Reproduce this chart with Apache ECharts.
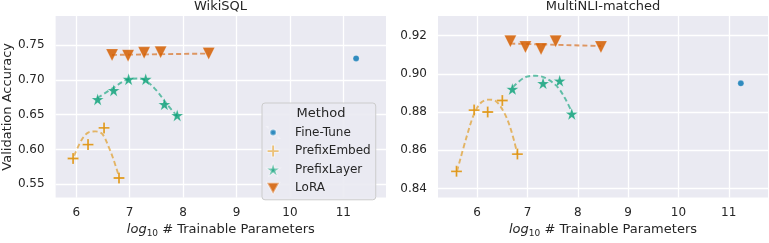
<!DOCTYPE html>
<html>
<head>
<meta charset="utf-8">
<script src="https://cdn.jsdelivr.net/npm/echarts@6/dist/echarts.min.js"></script>
<style>
html,body{margin:0;padding:0;background:#fff;}
#chart{width:769px;height:243px;}
</style>
</head>
<body>
<div id="chart"></div>
<script>
// ---- data ----
const methods = ['Fine-Tune', 'PrefixEmbed', 'PrefixLayer', 'LoRA'];
const panelTitles = ['WikiSQL', 'MultiNLI-matched'];

// WikiSQL (x = log10 # trainable params, y = validation accuracy)
const wikiFine  = [[11.24, 0.731]];
const wikiEmbed = [[5.94, 0.587], [6.22, 0.607], [6.52, 0.631], [6.80, 0.559]];
const wikiLayer = [[6.40, 0.672], [6.70, 0.685], [6.98, 0.701], [7.30, 0.701], [7.65, 0.665], [7.89, 0.649]];
const wikiLora  = [[6.67, 0.736], [6.97, 0.735], [7.27, 0.739], [7.58, 0.740], [8.48, 0.738]];
const wikiEmbedFit = [[5.96, 0.591], [6.11, 0.615], [6.24, 0.625], [6.36, 0.626], [6.49, 0.622], [6.61, 0.603], [6.70, 0.585], [6.80, 0.561]];
const wikiLayerFit = [[6.40, 0.674], [6.70, 0.689], [6.98, 0.701], [7.15, 0.702], [7.30, 0.699], [7.50, 0.685], [7.70, 0.665], [7.89, 0.648]];
const wikiLoraFit  = [[6.67, 0.736], [8.48, 0.738]];

// MultiNLI-matched
const mnliFine  = [[11.24, 0.895]];
const mnliEmbed = [[5.59, 0.849], [5.94, 0.881], [6.21, 0.880], [6.50, 0.886], [6.80, 0.858]];
const mnliLayer = [[6.70, 0.892], [7.31, 0.895], [7.64, 0.8963], [7.88, 0.879]];
const mnliLora  = [[6.66, 0.917], [6.96, 0.914], [7.27, 0.913], [7.56, 0.917], [8.46, 0.914]];
const mnliEmbedFit = [[5.60, 0.849], [5.79, 0.867], [5.94, 0.879], [6.08, 0.885], [6.23, 0.8865], [6.38, 0.8855], [6.55, 0.879], [6.68, 0.870], [6.80, 0.858]];
const mnliLayerFit = [[6.71, 0.893], [6.94, 0.898], [7.16, 0.899], [7.37, 0.8976], [7.60, 0.893], [7.77, 0.886], [7.88, 0.880]];
const mnliLoraFit  = [[6.66, 0.9158], [8.46, 0.9145]];

// ---- styling ----
const FONT = 'DejaVu Sans';
const TXT = '#262626';
const colors = {fine: '#0173B2', embed: '#DE8F05', layer: '#029E73', lora: '#D55E00'};
const STAR = 'path://M0,-10 L2.245,-3.09 L9.511,-3.09 L3.633,1.18 L5.878,8.09 L0,3.82 L-5.878,8.09 L-3.633,1.18 L-9.511,-3.09 L-2.245,-3.09 Z';
const PLUS = 'path://M-1.7,-10 L1.7,-10 L1.7,-1.7 L10,-1.7 L10,1.7 L1.7,1.7 L1.7,10 L-1.7,10 L-1.7,1.7 L-10,1.7 L-10,-1.7 L-1.7,-1.7 Z';
const TRI_DOWN = 'path://M-10,-9 L10,-9 L0,9 Z';
const SMALLDOT = 'path://M0,0 L0.01,0 L0.01,0.01 Z M22,22 L21.99,22 L21.99,21.99 Z M5,11 A6,6 0 1 1 17,11 A6,6 0 1 1 5,11 Z';

const chart = echarts.init(document.getElementById('chart'), null, {renderer: 'canvas'});

function isMult(v, step) { return Math.abs(v / step - Math.round(v / step)) < 1e-6; }

function xAxis(gi, min, max) {
  return {
    gridIndex: gi, type: 'value', min: min, max: max, minInterval: 1, maxInterval: 1,
    axisLine: {show: false}, axisTick: {show: false},
    axisLabel: {margin: 9, fontSize: 12, fontFamily: FONT, color: TXT, showMinLabel: false, showMaxLabel: false,
      formatter: v => isMult(v, 1) ? String(Math.round(v)) : ''},
    splitLine: {show: true, showMinLine: false, showMaxLine: false, lineStyle: {color: '#ffffff', width: 1.3}},
    name: '{it|log}{sub|10} # Trainable Parameters', nameLocation: 'middle', nameGap: 23,
    nameTextStyle: {fontSize: 13, fontFamily: FONT, color: TXT,
      rich: {it: {fontStyle: 'italic', fontSize: 13, fontFamily: FONT, color: TXT},
             sub: {fontSize: 9, fontFamily: FONT, color: TXT, padding: [7, 0, 0, 0]}}}
  };
}
function yAxis(gi, min, max, step, name) {
  return {
    gridIndex: gi, type: 'value', min: min, max: max, minInterval: step, maxInterval: step,
    axisLine: {show: false}, axisTick: {show: false},
    axisLabel: {margin: 11, fontSize: 12, fontFamily: FONT, color: TXT, showMinLabel: false, showMaxLabel: false,
      formatter: v => isMult(v, step) ? v.toFixed(2) : ''},
    splitLine: {show: true, showMinLine: false, showMaxLine: false, lineStyle: {color: '#ffffff', width: 1.3}},
    name: name, nameLocation: 'middle', nameGap: 40,
    nameTextStyle: {fontSize: 13, fontFamily: FONT, color: TXT}
  };
}

function panelSeries(gi, fine, embed, layer, lora, embedFit, layerFit, loraFit) {
  const line = (name, data, color) => ({
    name: name, type: 'line', xAxisIndex: gi, yAxisIndex: gi, data: data, smooth: 0.35,
    showSymbol: false, symbol: 'none', z: 1, silent: true,
    lineStyle: {color: color, width: 1.9, type: [5, 3], opacity: 0.6}
  });
  const sc = (name, data, color, symbol, size, op) => ({
    name: name, type: 'scatter', xAxisIndex: gi, yAxisIndex: gi, data: data, z: 3,
    symbol: symbol, symbolSize: size,
    itemStyle: {color: color, opacity: op, borderColor: 'rgba(255,255,255,0.45)', borderWidth: 0.5}
  });
  return [
    line('embedFit' + gi, embedFit, colors.embed),
    line('layerFit' + gi, layerFit, colors.layer),
    line('loraFit' + gi, loraFit, colors.lora),
    sc('Fine-Tune', fine, colors.fine, 'circle', 6, 0.8),
    sc('PrefixEmbed', embed, colors.embed, PLUS, 11, 0.9),
    sc('PrefixLayer', layer, colors.layer, STAR, 12, 0.8),
    sc('LoRA', lora, colors.lora, TRI_DOWN, 12, 0.85)
  ];
}

const option = {
  animation: false,
  backgroundColor: '#ffffff',
  grid: [
    {left: 55, top: 16, width: 331, height: 186, show: true, backgroundColor: '#EAEAF2', borderWidth: 0},
    {left: 438, top: 16, width: 330, height: 186, show: true, backgroundColor: '#EAEAF2', borderWidth: 0}
  ],
  xAxis: [xAxis(0, 5.613, 11.80), xAxis(1, 5.222, 11.78)],
  yAxis: [yAxis(0, 0.5308, 0.7920, 0.05, 'Validation Accuracy'), yAxis(1, 0.83526, 0.9302, 0.02, '')],
  legend: {
    left: 262, top: 103, orient: 'vertical',
    padding: [23, 5, 5, 4],
    itemWidth: 24, itemHeight: 11, itemGap: 5.6,
    backgroundColor: 'rgba(234,234,242,0.9)', borderColor: '#CCCCCC', borderWidth: 1, borderRadius: 3,
    textStyle: {fontFamily: FONT, fontSize: 12, color: TXT, padding: [0, 0, 0, 5]},
    data: [
      {name: methods[0], icon: SMALLDOT},
      {name: methods[1]},
      {name: methods[2]},
      {name: methods[3]}
    ]
  },
  graphic: [
    {type: 'text', z: 100, x: 220.5, y: 7, style: {text: panelTitles[0], font: '13px "DejaVu Sans"', fill: TXT, textAlign: 'center', textVerticalAlign: 'middle'}},
    {type: 'text', z: 100, x: 603, y: 7, style: {text: panelTitles[1], font: '13px "DejaVu Sans"', fill: TXT, textAlign: 'center', textVerticalAlign: 'middle'}},
    {type: 'text', z: 100, x: 321, y: 113.5, style: {text: 'Method', font: '13px "DejaVu Sans"', fill: TXT, textAlign: 'center', textVerticalAlign: 'middle'}}
  ],
  series: [].concat(
    panelSeries(0, wikiFine, wikiEmbed, wikiLayer, wikiLora, wikiEmbedFit, wikiLayerFit, wikiLoraFit),
    panelSeries(1, mnliFine, mnliEmbed, mnliLayer, mnliLora, mnliEmbedFit, mnliLayerFit, mnliLoraFit)
  )
};
chart.setOption(option);
</script>
</body>
</html>
